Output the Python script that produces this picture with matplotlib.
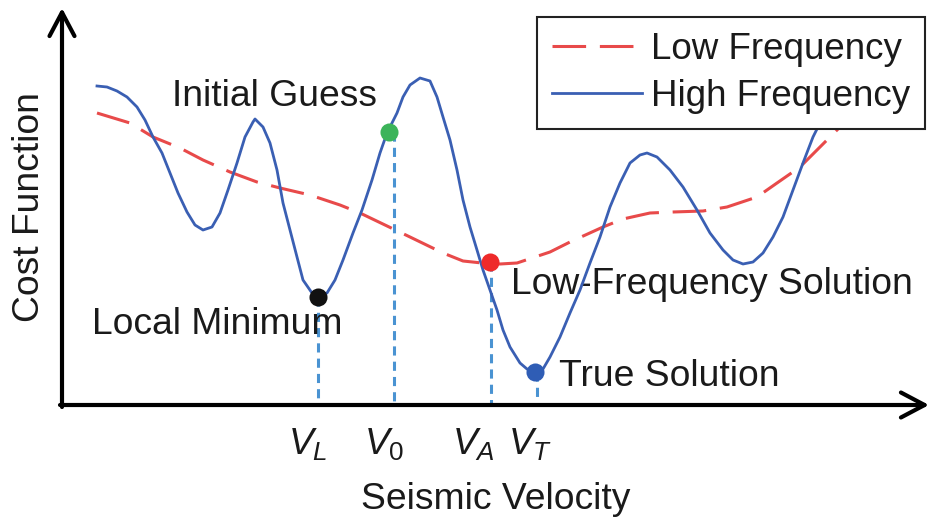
import matplotlib
matplotlib.use("Agg")
import matplotlib.pyplot as plt
from matplotlib.lines import Line2D

plt.rcParams["font.family"] = ["Liberation Sans", "DejaVu Sans"]
plt.rcParams["mathtext.fontset"] = "custom"
plt.rcParams["mathtext.rm"] = "Liberation Sans"
plt.rcParams["mathtext.it"] = "Liberation Sans:italic"

# high-frequency cost curve (velocity, cost)
hf_v = [35, 45, 55, 65, 75, 83, 91, 100, 108, 116, 125, 133, 141, 150, 158, 166,
        175, 183, 191, 193, 201, 208, 215, 221, 228, 235, 241, 250, 256, 265, 273,
        281, 291, 300, 310, 318, 325, 335, 341, 348, 358, 368, 375, 381, 388, 395,
        401, 408, 415, 421, 428, 435, 441, 448, 458, 465, 473, 481, 488, 498, 508,
        518, 528, 538, 548, 558, 568, 578, 585, 595, 608, 621, 635, 648, 661, 671,
        681, 691, 701, 711, 721, 731, 741, 751, 756, 766]
hf_c = [319, 318, 314, 308, 298, 285, 268, 252, 232, 212, 193, 180, 175, 178, 192, 215,
        242, 268, 283, 286, 278, 262, 235, 202, 175, 148, 125, 112, 107, 112, 125,
        145, 172, 195, 225, 252, 272, 292, 308, 320, 327, 324, 308, 288, 265, 235,
        205, 178, 155, 135, 115, 95, 75, 58, 42, 36, 34, 36, 48, 68, 92,
        115, 142, 168, 198, 222, 242, 250, 252, 248, 235, 218, 195, 172, 155, 145,
        141, 143, 152, 168, 188, 215, 242, 268, 278, 305]

# low-frequency cost curve
lf_v = [35, 68, 91, 118, 141, 168, 195, 218, 248, 278, 298, 348, 381, 401, 420, 438,
        455, 488, 508, 541, 561, 588, 611, 641, 665, 695, 715, 738, 765, 778, 793]
lf_c = [292, 282, 268, 257, 245, 233, 223, 217, 210, 200, 192, 168, 152, 144, 142, 141,
        142, 153, 163, 178, 186, 192, 193, 194, 198, 208, 222, 238, 265, 278, 297]

# marked points
pt_v = [256, 327, 428, 473]
pt_c = [108, 273, 143, 33]
pt_colors = ["#111111", "#3cb45a", "#ee2a2a", "#2f5db5"]
guide_v = [256, 332, 429, 475]
tick_labels = ["$V_L$", "$V_0$", "$V_A$", "$V_T$"]
tick_left = [226, 302, 390, 446]

W, H = 936, 521
fig = plt.figure(figsize=(W / 100, H / 100), dpi=100)
ax = fig.add_axes([62 / W, 116 / H, 858 / W, 390 / H])
ax.set_xlim(0, 858)
ax.set_ylim(0, 390)
ax.axis("off")

blue = "#3a5fb3"
red = "#e84a4a"
guide = "#4a93d2"
txt = "#1a1a1a"

for v, c in zip(guide_v, pt_c):
    ax.plot([v, v], [c, 0], color=guide, lw=2.2, dashes=(3, 2), zorder=2, clip_on=False)

ax.plot(lf_v, lf_c, color=red, lw=2.2, dashes=(11, 4.5), zorder=3, label="Low Frequency")
ax.plot(hf_v, hf_c, color=blue, lw=2.0, zorder=4, label="High Frequency",
        solid_joinstyle="round")

for v, c, col in zip(pt_v, pt_c, pt_colors):
    ax.plot(v, c, "o", color=col, ms=13, mec="none", zorder=5)

arrow = dict(arrowstyle="->,head_length=0.85,head_width=0.45", color="black",
             lw=3, mutation_scale=20, shrinkA=0, shrinkB=0)
ax.annotate("", xy=(0, 397), xytext=(0, -2), arrowprops=arrow, annotation_clip=False)
ax.annotate("", xy=(867, 0), xytext=(-2, 0), arrowprops=arrow, annotation_clip=False)

fs = 26.8
ax.text(212, 308, "Initial Guess", fontsize=fs, color=txt, ha="center", va="center")
ax.text(155, 80, "Local Minimum", fontsize=fs, color=txt, ha="center", va="center")
ax.text(650, 120, "Low-Frequency Solution", fontsize=fs, color=txt, ha="center", va="center")
ax.text(607, 29, "True Solution", fontsize=fs, color=txt, ha="center", va="center")
for lab, x in zip(tick_labels, tick_left):
    ax.text(x, -49, lab, fontsize=fs, color=txt, ha="left", va="baseline", clip_on=False)
ax.text(434, -104, "Seismic Velocity", fontsize=fs, color=txt, ha="center", va="baseline")
ax.text(-32, 198, "Cost Function", fontsize=fs, color=txt, ha="center", va="center",
        rotation=90)

handles = [Line2D([], [], color=red, lw=2.2, dashes=(11, 4.5)),
           Line2D([], [], color=blue, lw=2.0)]
leg = fig.legend(handles, ["Low Frequency", "High Frequency"], loc="upper right",
                 bbox_to_anchor=(925 / W, 1 - 17 / H), fontsize=26.5, frameon=True,
                 fancybox=False, edgecolor="#222222", framealpha=1, borderpad=0.4,
                 labelspacing=0.34, handlelength=2.45, handletextpad=0.25, borderaxespad=0)
leg.get_frame().set_linewidth(1.5)
for t in leg.get_texts():
    t.set_color(txt)
leg.set_zorder(10)

fig.savefig("out.png", dpi=100)
